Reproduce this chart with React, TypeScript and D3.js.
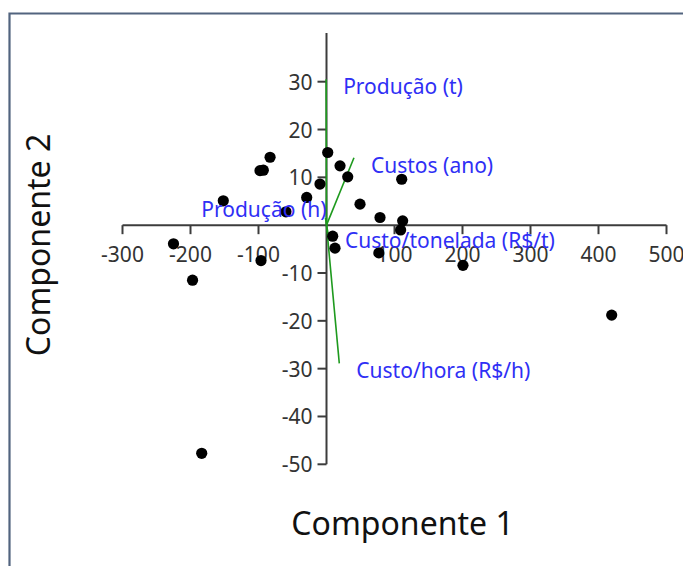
import React from "react";
import * as d3 from "d3";

// PCA scores (Componente 1, Componente 2)
const scoreX = [-151.8, -97.8, -92.9, -83, -59.6, -29.1, -9.6, 1.8, 19.9, 31.2, 49.3, 78.7, 110.6, 112, 109, 9.1, 12.5, 77, 200.7, -225, -197, -96.3, -183.5, 419.4];
const scoreY = [5.1, 11.4, 11.5, 14.2, 2.8, 5.8, 8.6, 15.2, 12.4, 10.1, 4.4, 1.6, 9.6, 0.9, -1.0, -2.3, -4.8, -5.8, -8.4, -3.9, -11.5, -7.4, -47.7, -18.8];

// Loadings (vectors from origin)
const loadingNames = ["Produção (t)", "Custos (ano)", "Produção (h)", "Custo/tonelada (R$/t)", "Custo/hora (R$/h)"];
const loadingX = [-0.5, 40.4, -1.5, 2.2, 18.8];
const loadingY = [30.5, 14.1, 1.5, -1.6, -28.9];

const xTicks = [-300, -200, -100, 100, 200, 300, 400, 500];
const yTicks = [30, 20, 10, -10, -20, -30, -40, -50];

// label placement (layout only)
const labelOnLeft = [false, false, true, false, false];

const W = 683;
const H = 566;
const FONT = "'Noto Sans', 'Open Sans', sans-serif";

export default function App() {
  const x = d3.scaleLinear().domain([-300, 500]).range([122.5, 666.5]);
  const y = d3.scaleLinear().domain([30, -50]).range([81.7, 464.3]);
  const x0 = x(0);
  const y0 = y(0);
  const yTop = 33;
  const axisColor = "#3c3c3c";
  const tickColor = "#333333";

  return (
    <svg
      width={W}
      height={H}
      style={{ position: "absolute", left: 0, top: 0, background: "#fff" }}
      fontFamily={FONT}
    >
      {/* frame */}
      <path d={`M9.5,${H} V13.5 H${W}`} fill="none" stroke="#52647f" strokeWidth={2.2} />

      {/* x axis */}
      <line x1={x(-300)} x2={x(500)} y1={y0} y2={y0} stroke={axisColor} strokeWidth={2} />
      {xTicks.map((t) => (
        <g key={"xt" + t}>
          <line x1={x(t)} x2={x(t)} y1={y0} y2={y0 + 9} stroke={axisColor} strokeWidth={2} />
          <text x={x(t)} y={y0 + 29} fontSize={21} fill={tickColor} textAnchor="middle" dominantBaseline="central">
            {t}
          </text>
        </g>
      ))}

      {/* y axis */}
      <line x1={x0} x2={x0} y1={yTop} y2={y(-50)} stroke={axisColor} strokeWidth={2} />
      {yTicks.map((t) => (
        <g key={"yt" + t}>
          <line x1={x0 - 9} x2={x0} y1={y(t)} y2={y(t)} stroke={axisColor} strokeWidth={2} />
          <text x={x0 - 14} y={y(t)} fontSize={21} fill={tickColor} textAnchor="end" dominantBaseline="central">
            {t}
          </text>
        </g>
      ))}

      {/* loading vectors */}
      {loadingNames.map((n, i) => (
        <line
          key={"lv" + i}
          x1={x0}
          y1={y0}
          x2={x(loadingX[i])}
          y2={y(loadingY[i])}
          stroke="#1e9a1e"
          strokeWidth={1.6}
        />
      ))}

      {/* scores */}
      {scoreX.map((v, i) => (
        <circle key={"p" + i} cx={x(v)} cy={y(scoreY[i])} r={5.6} fill="#000" />
      ))}

      {/* loading labels */}
      {loadingNames.map((n, i) => {
        const ex = x(loadingX[i]);
        const ey = y(loadingY[i]);
        const left = labelOnLeft[i];
        return (
          <text
            key={"ll" + i}
            x={left ? ex + 1 : ex + 17}
            y={left ? ey - 9 : ey + 7}
            fontSize={21}
            fill="#2f2ff5"
            textAnchor={left ? "end" : "start"}
            dominantBaseline="central"
          >
            {n}
          </text>
        );
      })}

      {/* axis titles */}
      <text x={402.5} y={535} fontSize={32} fill="#111" textAnchor="middle">
        Componente 1
      </text>
      <text
        transform={`translate(50,245) rotate(-90)`}
        fontSize={32}
        fill="#111"
        textAnchor="middle"
      >
        Componente 2
      </text>
    </svg>
  );
}
